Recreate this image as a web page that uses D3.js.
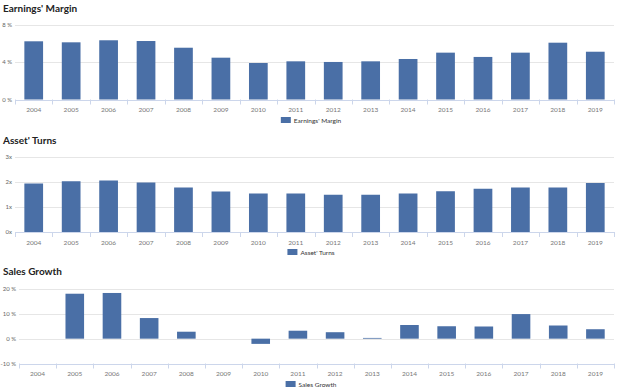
<!DOCTYPE html>
<html><head><meta charset="utf-8">
<script src="https://cdn.jsdelivr.net/npm/d3@7/dist/d3.min.js"></script>
<style>
html,body{margin:0;padding:0;background:#fff;}
svg{display:block;font-family:"Lato","Open Sans",sans-serif;}
</style></head>
<body>
<svg id="chart" width="624" height="392"></svg>
<script>
const years = ["2004","2005","2006","2007","2008","2009","2010","2011","2012","2013","2014","2015","2016","2017","2018","2019"];
const earningsMargin = [6.25,6.14,6.36,6.28,5.56,4.49,3.92,4.10,4.03,4.10,4.35,5.03,4.57,5.03,6.10,5.13];
const assetTurns = [1.94,2.03,2.06,1.98,1.78,1.62,1.54,1.54,1.49,1.49,1.54,1.63,1.73,1.78,1.78,1.96];
const salesGrowth = [null,18.1,18.4,8.3,2.8,0.0,-2.1,3.2,2.6,0.3,5.5,5.0,4.9,9.9,5.3,3.8];
const marginTicks = [0,4,8];
const turnsTicks = [0,1,2,3];
const growthTicks = [-10,0,10,20];

const svg = d3.select("#chart");
const color = "#4a6fa6";

function panel(cfg){
  const left = cfg.left, right = 614;
  const x = d3.scaleBand().domain(years).range([left,right]).paddingInner(0.5).paddingOuter(0.25);
  const g = svg.append("g");
  const y = d3.scaleLinear().domain(cfg.domain).range([cfg.bottom, cfg.top]);
  g.append("text").attr("x",3).attr("y",cfg.titleY).attr("font-size",10).attr("font-weight","bold")
    .attr("fill","#222").text(cfg.title);
  g.selectAll(".grid").data(cfg.ticks).join("line")
    .attr("x1",left).attr("x2",right)
    .attr("y1",d=>Math.round(y(d))+0.5).attr("y2",d=>Math.round(y(d))+0.5)
    .attr("stroke",d=>d===cfg.domain[0]?"#ccd6eb":"#e6e6e6").attr("stroke-width",1);
  g.selectAll(".yl").data(cfg.ticks).join("text")
    .attr("x",left-3).attr("y",d=>y(d)+2).attr("text-anchor","end")
    .attr("font-size",6).attr("fill","#666").text(cfg.fmt);
  const base = y(0);
  g.selectAll(".bar").data(cfg.values.map((v,i)=>({v,yr:years[i]})).filter(d=>d.v!==null && d.v!==0)).join("rect")
    .attr("x",d=>x(d.yr)).attr("width",x.bandwidth())
    .attr("y",d=>Math.min(y(d.v),base)).attr("height",d=>Math.abs(y(d.v)-base))
    .attr("fill",color);
  const bounds = years.map(yr=>x(yr)-x.step()*0.25).concat([right]);
  g.selectAll(".xt").data(bounds).join("line")
    .attr("x1",d=>Math.round(d)+0.5).attr("x2",d=>Math.round(d)+0.5)
    .attr("y1",cfg.bottom).attr("y2",cfg.bottom+5).attr("stroke","#ccd6eb");
  g.selectAll(".xl").data(years).join("text")
    .attr("x",d=>x(d)+x.bandwidth()/2).attr("y",cfg.bottom+12.5).attr("text-anchor","middle")
    .attr("font-size",6.5).attr("fill","#777").text(d=>d);
  const lg = g.append("g");
  const t = lg.append("text").attr("font-size",6.5).attr("fill","#333").attr("y",cfg.legendY+2.5).text(cfg.title);
  const tw = t.node().getComputedTextLength();
  const total = 10+3+tw;
  const lx = 311 - total/2;
  lg.append("rect").attr("x",lx).attr("y",cfg.legendY-3).attr("width",10).attr("height",6).attr("fill",color);
  t.attr("x",lx+13);
}

panel({title:"Earnings' Margin",titleY:12,left:15,domain:[0,8],top:25,bottom:99.5,ticks:marginTicks,values:earningsMargin,fmt:d=>d+" %",legendY:120});
panel({title:"Asset' Turns",titleY:144,left:15,domain:[0,3],top:157,bottom:232,ticks:turnsTicks,values:assetTurns,fmt:d=>d+"x",legendY:252});
panel({title:"Sales Growth",titleY:275,left:19,domain:[-10,20],top:289,bottom:363.5,ticks:growthTicks,values:salesGrowth,fmt:d=>d+" %",legendY:384});
</script>
</body></html>
